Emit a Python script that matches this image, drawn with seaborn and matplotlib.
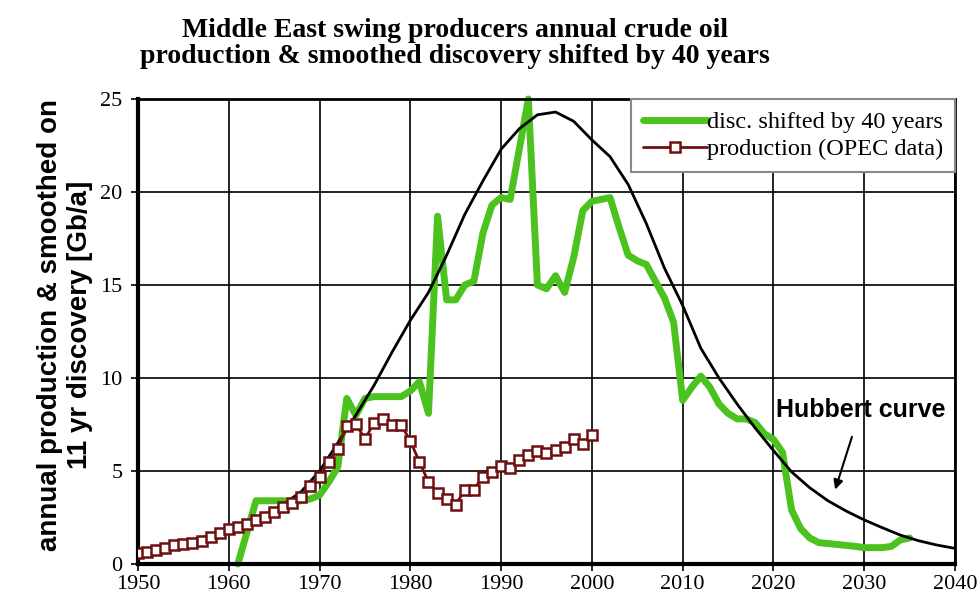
import matplotlib
matplotlib.use("Agg")
import matplotlib.pyplot as plt
import seaborn as sns
import pandas as pd

# ---------------- data ----------------
prod_years = list(range(1950, 2001))
prod_values = [0.6, 0.65, 0.75, 0.85, 1.0, 1.1, 1.15, 1.25, 1.45, 1.65,
               1.9, 2.0, 2.15, 2.35, 2.55, 2.8, 3.05, 3.3, 3.6, 4.2,
               4.7, 5.5, 6.2, 7.4, 7.55, 6.7, 7.6, 7.8, 7.45, 7.5,
               6.6, 5.5, 4.4, 3.8, 3.5, 3.17, 4.0, 4.0, 4.7, 4.96,
               5.27, 5.15, 5.6, 5.86, 6.07, 5.98, 6.13, 6.3, 6.7, 6.43,
               6.94]

disc_years = list(range(1961, 2036))
disc_values = [0.0, 1.7, 3.4, 3.4, 3.4, 3.4, 3.35, 3.4, 3.5, 3.7,
               4.4, 5.2, 8.9, 8.0, 8.9, 9.0, 9.0, 9.0, 9.0, 9.3,
               9.8, 8.1, 18.7, 14.2, 14.2, 15.0, 15.2, 17.8, 19.3, 19.7,
               19.6, 22.3, 25.0, 15.0, 14.8, 15.5, 14.6, 16.5, 19.0, 19.5,
               19.6, 19.7, 18.1, 16.6, 16.3, 16.1, 15.2, 14.3, 13.0, 8.8,
               9.5, 10.1, 9.5, 8.6, 8.1, 7.8, 7.8, 7.6, 7.0, 6.7,
               6.0, 2.9, 1.9, 1.4, 1.15, 1.1, 1.05, 1.0, 0.95, 0.88,
               0.88, 0.88, 0.95, 1.3, 1.4]

hub_years = list(range(1950, 2041, 2))
hub_values = [0.62, 0.85, 1.0, 1.3, 1.55, 1.85, 2.25, 2.65, 3.2, 3.9,
              5.0, 6.5, 8.0, 9.6, 11.4, 13.1, 14.6, 16.6, 18.8, 20.6,
              22.3, 23.4, 24.15, 24.3, 23.8, 22.8, 21.9, 20.4, 18.3, 15.9,
              13.9, 11.6, 10.0, 8.6, 7.3, 6.1, 4.95, 4.1, 3.4, 2.85,
              2.37, 1.95, 1.55, 1.25, 1.02, 0.84]

x_ticks = list(range(1950, 2041, 10))
y_ticks = [0, 5, 10, 15, 20, 25]

title_text = ("Middle East swing producers annual crude oil\n"
              "production & smoothed discovery shifted by 40 years")
ylabel_text = "annual production & smoothed on\n11 yr discovery [Gb/a]"
disc_label = "disc. shifted by 40 years"
prod_label = "production (OPEC data)"
hub_label = "Hubbert curve"

prod_df = pd.DataFrame({"year": prod_years, "value": prod_values})
disc_df = pd.DataFrame({"year": disc_years, "value": disc_values})
hub_df = pd.DataFrame({"year": hub_years, "value": hub_values})

# ---------------- style ----------------
sns.set_theme(style="white")
plt.rcParams["font.family"] = ["Liberation Serif", "DejaVu Serif"]
plt.rcParams["text.color"] = "black"
plt.rcParams["axes.labelcolor"] = "black"
plt.rcParams["xtick.color"] = "black"
plt.rcParams["ytick.color"] = "black"

GREEN = "#4cc21e"
DARKRED = "#6e1010"

fig = plt.figure(figsize=(9.8, 6.0), dpi=100)
ax = fig.add_axes([0.1408, 0.06, 0.8337, 0.775])

ax.grid(True, color="black", linewidth=1.2)
ax.set_axisbelow(True)

sns.lineplot(data=hub_df, x="year", y="value", ax=ax, color="black",
             linewidth=2.0, zorder=3, legend=False)
sns.lineplot(data=disc_df, x="year", y="value", ax=ax, color=GREEN,
             linewidth=5.0, zorder=2, label=disc_label, clip_on=False)
sns.lineplot(data=prod_df, x="year", y="value", ax=ax, color=DARKRED,
             linewidth=2.0, marker="s", markersize=7, markerfacecolor="white",
             markeredgecolor=DARKRED, markeredgewidth=1.8, zorder=4,
             label=prod_label)

ax.set_xlim(1950, 2040)
ax.set_ylim(0, 25)
ax.set_xticks(x_ticks)
ax.set_yticks(y_ticks)
ax.tick_params(axis="both", labelsize=16, length=5, width=1.2, color="black",
               labelcolor="black", direction="out", bottom=True, left=True)
ax.tick_params(axis="y", pad=6)
ax.tick_params(axis="x", pad=3)
for lab in ax.get_xticklabels() + ax.get_yticklabels():
    lab.set_fontfamily(["Liberation Serif"])

ax.spines["left"].set_linewidth(3)
ax.spines["bottom"].set_linewidth(3)
ax.spines["top"].set_linewidth(2)
ax.spines["right"].set_linewidth(2)
for s in ax.spines.values():
    s.set_color("black")

ax.set_xlabel("")
ax.set_ylabel("")
fig.text(0.066, 0.458, ylabel_text, rotation=90, ha="center", va="center",
         multialignment="center", fontsize=20, fontweight="bold",
         family=["Liberation Sans"], linespacing=1.2, color="black")

fig.suptitle(title_text, x=0.464, y=0.970, va="top", fontsize=20,
             fontweight="bold", family=["Liberation Serif"],
             linespacing=1.05, color="black")

leg = ax.legend(loc="upper right", bbox_to_anchor=(1.0, 1.0), borderaxespad=0,
                frameon=True, fancybox=False, handlelength=2.6,
                handletextpad=0.0, borderpad=0.5, labelspacing=0.2,
                prop={"family": "Liberation Serif", "size": 17.5})
leg.get_frame().set_edgecolor("#888888")
leg.get_frame().set_linewidth(1.5)
leg.get_frame().set_alpha(1.0)
leg.set_zorder(10)
for t in leg.get_texts():
    t.set_color("black")

ax.annotate(hub_label, xy=(2026.8, 4.0), xytext=(2029.6, 8.3),
            ha="center", va="center", fontsize=18, fontweight="bold",
            family=["Liberation Sans"], color="black",
            arrowprops=dict(arrowstyle="-|>", color="black", lw=1.5,
                            shrinkA=9, shrinkB=0, mutation_scale=14),
            zorder=6)

fig.savefig("out.png", dpi=100)
